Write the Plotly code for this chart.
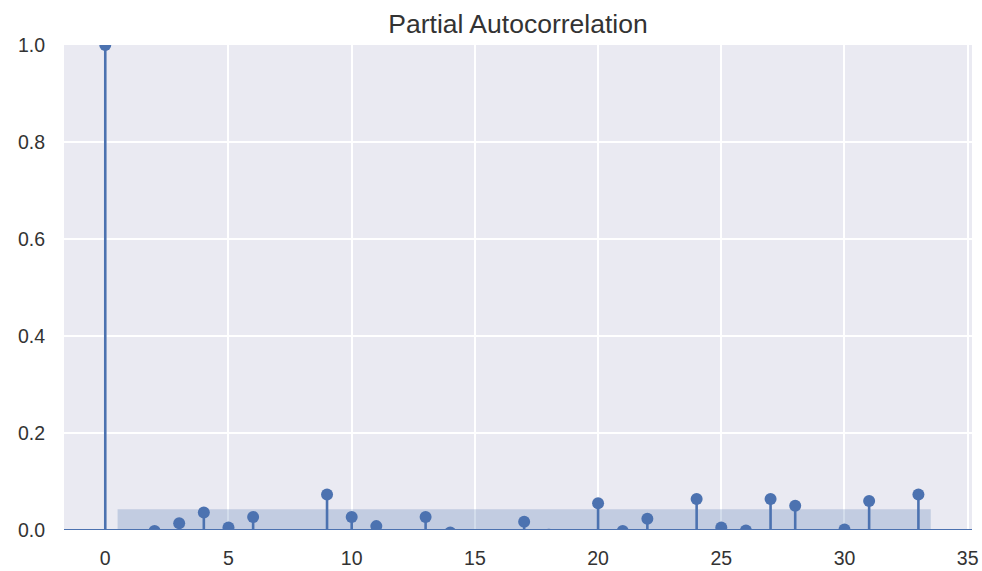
import plotly.graph_objects as go

lags = list(range(34))
pacf = [1.0, -0.03, -0.002, 0.014, 0.036, 0.005, 0.027, -0.02, -0.015, 0.073,
        0.027, 0.008, -0.025, 0.027, -0.005, -0.03, -0.02, 0.017, -0.01, -0.03,
        0.055, -0.002, 0.023, -0.02, 0.064, 0.005, -0.001, 0.064, 0.05, -0.03,
        0.001, 0.060, -0.02, 0.073]
conf = 0.0426
band_x = [0.5, 33.5]

blue = "#4C72B0"
text_color = "#333333"

stem_x, stem_y = [], []
for lag, v in zip(lags, pacf):
    stem_x += [lag, lag, None]
    stem_y += [0, v, None]

fig = go.Figure()
fig.add_trace(go.Scatter(
    x=[band_x[0], band_x[1], band_x[1], band_x[0], band_x[0]],
    y=[conf, conf, -conf, -conf, conf],
    fill="toself", fillcolor="rgba(76,114,176,0.25)",
    line=dict(width=0), mode="lines", hoverinfo="skip", showlegend=False))
fig.add_trace(go.Scatter(x=stem_x, y=stem_y, mode="lines",
                         line=dict(color=blue, width=2.6), showlegend=False))
fig.add_trace(go.Scatter(x=lags, y=pacf, mode="markers",
                         marker=dict(color=blue, size=12), showlegend=False))

fig.add_shape(type="line", xref="paper", yref="y", x0=0, x1=1, y0=0, y1=0,
              line=dict(color=blue, width=2), layer="above")

W, H = 982, 571
fig.update_layout(
    width=W, height=H,
    margin=dict(l=64, r=10, t=45, b=41),
    paper_bgcolor="white", plot_bgcolor="#EAEAF2",
    font=dict(family="Liberation Sans, Arial, sans-serif", size=19.5, color=text_color),
    title=dict(text="Partial Autocorrelation", x=0.5, xanchor="center",
               xref="paper", y=1 - 24 / H, yanchor="middle",
               font=dict(size=26.5, color=text_color)),
    xaxis=dict(range=[-1.675, 35.175], tickvals=[0, 5, 10, 15, 20, 25, 30, 35],
               showgrid=True, gridcolor="white", gridwidth=1.5, zeroline=False,
               showline=False, ticks="", ticklabelstandoff=14,
               ticklabeloverflow="allow", automargin=False),
    yaxis=dict(range=[0, 1.0], tickvals=[0, 0.2, 0.4, 0.6, 0.8, 1.0],
               ticktext=["0.0", "0.2", "0.4", "0.6", "0.8", "1.0"],
               showgrid=True, gridcolor="white", gridwidth=1.5, zeroline=False,
               showline=False, ticks="", ticklabelstandoff=18, automargin=False),
)

fig.write_html(
    "out.html",
    config={"displayModeBar": False},
    post_script="document.body.style.margin='0';"
                "document.documentElement.style.overflow='hidden';"
                "document.body.style.overflow='hidden';",
)
